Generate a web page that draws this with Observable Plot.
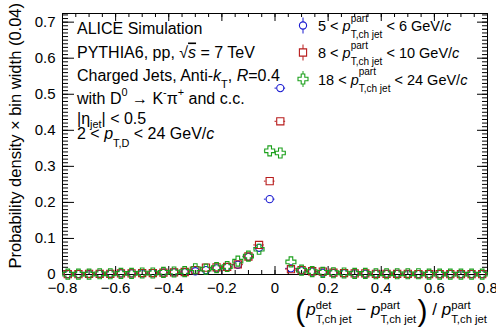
<!DOCTYPE html>
<html><head><meta charset="utf-8">
<script src="https://cdn.jsdelivr.net/npm/d3@7"></script>
<script src="https://cdn.jsdelivr.net/npm/@observablehq/plot@0.6"></script>
<style>
body{margin:0;background:#fff}
svg text{white-space:pre}
</style>
</head><body><div id="chart"></div>
<script>
// ---- data ----
const binCenters = [-0.78,-0.74,-0.70,-0.66,-0.62,-0.58,-0.54,-0.50,-0.46,-0.42,-0.38,-0.34,-0.30,-0.26,-0.22,-0.18,-0.14,-0.10,-0.06,-0.02,
                     0.02, 0.06, 0.10, 0.14, 0.18, 0.22, 0.26, 0.30, 0.34, 0.38, 0.42, 0.46, 0.50, 0.54, 0.58, 0.62, 0.66, 0.70, 0.74, 0.78];
const binHalfWidth = 0.02;
const seriesNames = ["5 < pT < 6", "8 < pT < 10", "18 < pT < 24"];
const values5to6 = [0.001,0.001,0.001,0.002,0.002,0.003,0.003,0.003,0.004,0.005,0.006,0.006,0.009,0.012,0.017,0.021,0.027,0.049,0.074,0.209,
                    0.517,0.017,0.011,0.008,0.005,0.004,0.003,0.003,0.002,0.002,0.002,0.002,0.001,0.001,0.001,0.001,0.001,0.001,0.001,0.001];
const values8to10 = [0.001,0.001,0.002,0.002,0.002,0.003,0.003,0.004,0.004,0.005,0.006,0.007,0.012,0.019,0.020,0.021,0.028,0.050,0.082,0.259,
                     0.425,0.015,0.012,0.009,0.008,0.005,0.004,0.003,0.003,0.002,0.002,0.002,0.002,0.001,0.001,0.001,0.001,0.001,0.001,0.001];
const values18to24 = [0.001,0.001,0.001,0.002,0.002,0.003,0.003,0.004,0.004,0.006,0.007,0.008,0.016,0.015,0.019,0.022,0.037,0.051,0.070,0.343,
                      0.337,0.035,0.012,0.008,0.006,0.005,0.004,0.003,0.003,0.002,0.002,0.002,0.002,0.002,0.001,0.001,0.001,0.001,0.001,0.001];
const xMajorTicks = [-0.8,-0.6,-0.4,-0.2,0,0.2,0.4,0.6,0.8];
const yMajorTicks = [0,0.1,0.2,0.3,0.4,0.5,0.6,0.7];

// ---- styling ----
const colors = ["#1a1ad0", "#b81c1c", "#1ca01c"];
const crossSymbol = {draw(ctx, size){const s=Math.sqrt(size/Math.PI), a=s*0.36;
  ctx.moveTo(-a,-s);ctx.lineTo(a,-s);ctx.lineTo(a,-a);ctx.lineTo(s,-a);ctx.lineTo(s,a);ctx.lineTo(a,a);
  ctx.lineTo(a,s);ctx.lineTo(-a,s);ctx.lineTo(-a,a);ctx.lineTo(-s,a);ctx.lineTo(-s,-a);ctx.lineTo(-a,-a);ctx.closePath();}};
const squareSymbol = {draw(ctx, size){const s=Math.sqrt(size/Math.PI); ctx.rect(-s,-s,2*s,2*s);}};
const symbols = [d3.symbolCircle, squareSymbol, crossSymbol];
const radii = [3.6, 3.6, 5];

const allValues = [values5to6, values8to10, values18to24];
const rows = allValues.map((vals, si) => binCenters.map((x, i) => ({x, y: vals[i], s: si})));

const W = 496, H = 336, mL = 62, mR = 9, mT = 13, mB = 62;
const fw = W - mL - mR, fh = H - mT - mB;
const xMinor = d3.range(-0.8, 0.8001, 0.05).map(v => +v.toFixed(2));
const yMinor = d3.range(0, 0.7201, 0.01).map(v => +v.toFixed(2));
const fmt = d => d === 0 ? "0" : d3.format(".1f")(d);

const marks = [
  Plot.frame({stroke: "black", strokeWidth: 1}),
  // inward ticks on all four sides
  Plot.tickX(xMinor, {x: d => d, insetTop: fh - 4, stroke: "black"}),
  Plot.tickX(xMajorTicks, {x: d => d, insetTop: fh - 8, stroke: "black"}),
  Plot.tickX(xMinor, {x: d => d, insetBottom: fh - 4, stroke: "black"}),
  Plot.tickX(xMajorTicks, {x: d => d, insetBottom: fh - 8, stroke: "black"}),
  Plot.tickY(yMinor, {y: d => d, insetRight: fw - 6, stroke: "black"}),
  Plot.tickY(yMajorTicks, {y: d => d, insetRight: fw - 12, stroke: "black"}),
  Plot.tickY(yMinor, {y: d => d, insetLeft: fw - 5, stroke: "black"}),
  Plot.tickY(yMajorTicks, {y: d => d, insetLeft: fw - 10, stroke: "black"}),
  Plot.axisX({ticks: xMajorTicks, tickSize: 0, tickPadding: 8, tickFormat: fmt, label: null, fontSize: 15}),
  Plot.axisY({ticks: yMajorTicks, tickSize: 0, tickPadding: 7, tickFormat: fmt, label: null, fontSize: 15}),
];
rows.forEach((data, si) => {
  const r = radii[si], c = colors[si];
  marks.push(
    Plot.ruleY(data, {y: "y", x1: d => d.x - binHalfWidth, x2: "x", insetRight: r, stroke: c, strokeWidth: 1}),
    Plot.ruleY(data, {y: "y", x1: "x", x2: d => d.x + binHalfWidth, insetLeft: r, stroke: c, strokeWidth: 1}),
    Plot.dot(data, {x: "x", y: "y", r, symbol: symbols[si], stroke: c, fill: "none", strokeWidth: 1.1})
  );
});

const svgNode = Plot.plot({
  width: W, height: H, marginLeft: mL, marginRight: mR, marginTop: mT, marginBottom: mB,
  x: {domain: [-0.8, 0.8]},
  y: {domain: [0, 0.724]},
  style: {fontFamily: "'Liberation Sans', Arial, sans-serif", fontSize: "15px", color: "black", background: "white"},
  marks
});
document.getElementById("chart").append(svgNode);

// ---- rich text helper (sub/superscripts) ----
const svg = d3.select(svgNode);
const FONT = "'Liberation Sans', Arial, sans-serif";
function rich(g, x, y, segs, size, o = {}) {
  const supDy = o.supDy ?? -0.5*size, subDy = o.subDy ?? 0.45*size, small = o.small ?? 0.68*size;
  let cx = x;
  for (const s of segs) {
    if (s.sup !== undefined || s.sub !== undefined) {
      let w = 0;
      if (s.sup) { const t = g.append("text").attr("x", cx).attr("y", y + supDy).attr("font-size", small).text(s.sup); w = Math.max(w, t.node().getComputedTextLength()); }
      if (s.sub) { const t = g.append("text").attr("x", cx).attr("y", y + subDy).attr("font-size", small).text(s.sub); w = Math.max(w, t.node().getComputedTextLength()); }
      cx += w;
    } else {
      const t = g.append("text").attr("x", cx).attr("y", y + (s.dy ?? 0)).attr("font-size", s.size ?? size)
        .attr("font-style", s.i ? "italic" : null).attr("text-decoration", s.over ? "overline" : null).text(s.t);
      cx += t.node().getComputedTextLength() + (s.gap ?? 0);
    }
  }
  return cx;
}
const ann = svg.append("g").attr("font-family", FONT).attr("fill", "black").attr("text-anchor", "start");

// info block
const infoX = 77, fs = 16;
rich(ann, infoX, 34, [{t: "ALICE Simulation"}], fs);
rich(ann, infoX, 57.5, [{t: "PYTHIA6, pp, √"}, {t: "s", i: true, over: true}, {t: " = 7 TeV"}], fs);
rich(ann, infoX, 80.5, [{t: "Charged Jets, Anti-"}, {t: "k", i: true}, {sub: "T"}, {t: ", "}, {t: "R", i: true}, {t: "=0.4"}], fs);
rich(ann, infoX, 103.5, [{t: "with D"}, {sup: "0"}, {t: " → K"}, {sup: "-"}, {t: "π"}, {sup: "+"}, {t: " and c.c."}], fs);
rich(ann, infoX, 123.5, [{t: "|η"}, {sub: "jet"}, {t: "| < 0.5"}], fs, {subDy: 4});
rich(ann, infoX, 138.5, [{t: "2 < "}, {t: "p", i: true}, {sub: "T,D"}, {t: " < 24 GeV/"}, {t: "c", i: true}], fs, {subDy: 8});

// legend
const legendLabels = [["5", "6"], ["8", "10"], ["18", "24"]];
const legendY = [31, 58, 84.5];
legendLabels.forEach(([lo, hi], i) => {
  const cy = legendY[i] - 5.5, cx = 303, r = radii[i];
  const sym = d3.symbol().type(symbols[i]).size(r*r*Math.PI)();
  ann.append("line").attr("x1", cx).attr("x2", cx).attr("y1", cy - 8).attr("y2", cy - r).attr("stroke", colors[i]);
  ann.append("line").attr("x1", cx).attr("x2", cx).attr("y1", cy + r).attr("y2", cy + 8).attr("stroke", colors[i]);
  ann.append("path").attr("d", sym).attr("transform", `translate(${cx},${cy})`).attr("fill", "none").attr("stroke", colors[i]).attr("stroke-width", 1.1);
  rich(ann, 318, legendY[i], [{t: `${lo} < `}, {t: "p", i: true}, {sup: "part", sub: "T,ch jet"}, {t: ` < ${hi} GeV/`}, {t: "c", i: true}], 14.5, {supDy: -9.5, subDy: 7, small: 10});
});

// y title
ann.append("text").attr("transform", "translate(21,3) rotate(-90)").attr("text-anchor", "end")
  .attr("font-size", 16.5).text("Probability density × bin width (0.04)");

// x title (right aligned)
const xt = ann.append("g");
const xEnd = rich(xt, 0, 315, [
  {t: "(", size: 30, dy: 6, gap: 1}, {t: "p", i: true}, {sup: "det", sub: "T,ch jet"}, {t: " − "}, {t: "p", i: true}, {sup: "part", sub: "T,ch jet"},
  {t: " ", size: 5}, {t: ")", size: 30, dy: 6}, {t: " / "}, {t: "p", i: true}, {sup: "part", sub: "T,ch jet"}
], 17, {supDy: -6.5, subDy: 8, small: 11.3});
xt.attr("transform", `translate(${487 - xEnd},0)`);
</script>
</body></html>
